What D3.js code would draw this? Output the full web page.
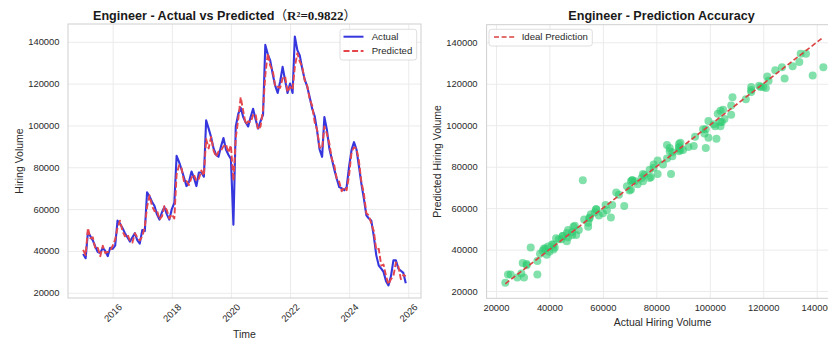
<!DOCTYPE html>
<html>
<head>
<meta charset="utf-8">
<script src="https://cdn.jsdelivr.net/npm/d3@7"></script>
<style>
  body { margin: 0; background: #fff; }
  svg { display: block; font-family: "Liberation Sans", Arial, sans-serif; }
</style>
</head>
<body>
<svg id="chart" width="828" height="341"></svg>
<script>
// Monthly engineer hiring volume, Jan 2015 – Dec 2025
const startYear = 2015;
const actual = [
  38500, 36500, 49000, 47000, 45000, 42000, 39500, 39000, 41500, 40000, 37500, 41500,
  41000, 42500, 54500, 53000, 51000, 48500, 46500, 44500, 46500, 48500, 45000, 43500,
  50000, 49500, 68000, 66000, 63500, 61500, 57500, 55000, 58500, 61000, 57500, 55000,
  60000, 63000, 85500, 82500, 79000, 75000, 71000, 73000, 78000, 75000, 71000, 77500,
  77500, 75500, 102500, 98500, 94500, 89000, 86000, 85000, 90000, 94000, 88500, 86000,
  84000, 52500, 99500, 105500, 108500, 104000, 101500, 99500, 104000, 108000, 103000, 98500,
  102000, 105000, 138500, 134000, 131000, 124500, 119000, 115500, 121000, 128000, 121500, 115500,
  120000, 115500, 142500, 136000, 133500, 127000, 122000, 118500, 113500, 108000, 104500, 97500,
  88500, 85000, 104000, 98000, 89000, 84000, 79000, 74500, 70500, 70000, 69000, 70500,
  80500, 88500, 92000, 88500, 80500, 72000, 65000, 57000, 55500, 54500, 47000, 38000,
  33000, 31500, 30000, 25500, 23500, 28000, 35500, 35500, 31500, 30500, 29500, 24500
];
const predicted = [
  40500, 38000, 51000, 46000, 46500, 41000, 41500, 37500, 42500, 39000, 39500, 40000,
  42500, 45500, 51000, 54500, 49500, 47000, 48000, 45000, 44000, 48500, 46500, 45000,
  47000, 51500, 61000, 66500, 61500, 59000, 59500, 55000, 56500, 61500, 59500, 55500,
  57500, 55500, 76500, 81000, 79500, 73000, 73500, 71500, 75000, 76500, 73500, 74500,
  78500, 76000, 93500, 89000, 94500, 88000, 85000, 87500, 88000, 90000, 91000, 87000,
  90500, 73500, 94000, 103000, 113500, 107000, 100500, 102000, 101500, 105000, 105500, 98000,
  99500, 107500, 124000, 134500, 128500, 126500, 118500, 118500, 118000, 122500, 123500, 116000,
  118500, 117000, 128000, 134500, 130500, 128000, 121500, 119000, 112500, 109500, 101500, 98000,
  89500, 89000, 99500, 96000, 91500, 84000, 81000, 74500, 73000, 68500, 70500, 69000,
  76500, 87500, 89500, 89000, 83000, 73000, 67500, 58000, 57000, 53000, 49500, 40500,
  41000, 33000, 33500, 28000, 24000, 26500, 28000, 34500, 32500, 26500, 28500, 28000
];
const yearTicks = [2016, 2018, 2020, 2022, 2024, 2026];
const volumeTicks = [20000, 40000, 60000, 80000, 100000, 120000, 140000];
const roleName = "Engineer";
const r2Label = "R²=0.9822";
const seriesNames = ["Actual", "Predicted"];
const idealName = "Ideal Prediction";

const months = actual.map((_, i) => new Date(startYear, i, 1));

const COLORS = {
  actual: "#3636de",
  predicted: "#e5464c",
  ideal: "#d9413f",
  dots: "#2ecc71",
  grid: "#ebebeb",
  frame: "#cfcfcf",
  text: "#2a2a2a"
};

const svg = d3.select("#chart");

function styleAxis(g) {
  g.select(".domain").remove();
  g.selectAll(".tick line").attr("stroke", COLORS.grid).attr("stroke-width", 1);
  g.selectAll(".tick text")
    .attr("fill", COLORS.text)
    .style("font-size", "9.4px")
    .style("font-family", "'Liberation Sans', Arial, sans-serif");
}

function frame(box) {
  svg.append("rect")
    .attr("x", box.left).attr("y", box.top)
    .attr("width", box.right - box.left).attr("height", box.bottom - box.top)
    .attr("fill", "none").attr("stroke", COLORS.frame).attr("stroke-width", 1);
}

// ---------- Left panel: time series ----------
const L = { left: 68, right: 421, top: 24, bottom: 298 };
const xL = d3.scaleTime()
  .domain([new Date(2014, 5, 28), new Date(2026, 5, 7)])
  .range([L.left, L.right]);
const yL = d3.scaleLinear().domain([17500, 148500]).range([L.bottom, L.top]);

svg.append("g")
  .attr("transform", `translate(${L.left},0)`)
  .call(d3.axisLeft(yL).tickValues(volumeTicks)
    .tickSize(-(L.right - L.left)).tickPadding(8.5).tickFormat(d3.format("d")))
  .call(styleAxis);

const xAxisL = svg.append("g")
  .attr("transform", `translate(0,${L.bottom})`)
  .call(d3.axisBottom(xL).tickValues(yearTicks.map(y => new Date(y, 0, 1)))
    .tickSize(-(L.bottom - L.top)).tickFormat(d3.timeFormat("%Y")))
  .call(styleAxis);
xAxisL.selectAll(".tick text")
  .attr("y", null).attr("dy", "0.32em")
  .attr("text-anchor", "middle")
  .attr("transform", "translate(0,15) rotate(-45)");

frame(L);

const lineL = d3.line().x((d, i) => xL(months[i])).y(d => yL(d));
svg.append("path").datum(actual)
  .attr("d", lineL).attr("fill", "none")
  .attr("stroke", COLORS.actual).attr("stroke-width", 2.1).attr("stroke-linejoin", "round");
svg.append("path").datum(predicted)
  .attr("d", lineL).attr("fill", "none")
  .attr("stroke", COLORS.predicted).attr("stroke-width", 1.9)
  .attr("stroke-dasharray", "6,2.6").attr("stroke-linejoin", "round");

// Title
const titleL = svg.append("text")
  .attr("x", 93).attr("y", 19.5)
  .attr("fill", "#1a1a1a").style("font-size", "12.6px");
titleL.append("tspan").style("font-weight", "bold")
  .text(`${roleName} - Actual vs Predicted`);
titleL.append("tspan").style("font-family", "'Noto Sans CJK SC', sans-serif").text("（");
titleL.append("tspan").style("font-family", "'Liberation Serif', serif")
  .style("font-weight", "bold").style("font-size", "13px").text(r2Label);
titleL.append("tspan").style("font-family", "'Noto Sans CJK SC', sans-serif").text("）");

svg.append("text").attr("x", (L.left + L.right) / 2).attr("y", 338)
  .attr("text-anchor", "middle").attr("fill", COLORS.text)
  .style("font-size", "10.5px").text("Time");
svg.append("text")
  .attr("transform", `translate(23,${(L.top + L.bottom) / 2}) rotate(-90)`)
  .attr("text-anchor", "middle").attr("fill", COLORS.text)
  .style("font-size", "10.5px").text("Hiring Volume");

// Legend
const legL = svg.append("g");
legL.append("rect").attr("x", 340).attr("y", 29.3).attr("width", 76.7).attr("height", 30.7)
  .attr("rx", 2.5).attr("fill", "#fff").attr("fill-opacity", 0.85)
  .attr("stroke", "#d6d6d6").attr("stroke-width", 0.8);
[[COLORS.actual, null, 36.7], [COLORS.predicted, "6,2.6", 51]].forEach(([c, dash, y], k) => {
  legL.append("line").attr("x1", 343.5).attr("x2", 363.5).attr("y1", y).attr("y2", y)
    .attr("stroke", c).attr("stroke-width", 2).attr("stroke-dasharray", dash);
  legL.append("text").attr("x", 371.7).attr("y", y + 3.4)
    .attr("fill", COLORS.text).style("font-size", "9.6px").text(seriesNames[k]);
});

// ---------- Right panel: actual vs predicted scatter ----------
const R = { left: 486.6, right: 839.4, top: 24.7, bottom: 298.3 };
const xR = d3.scaleLinear().domain([16500, 148500]).range([R.left, R.right]);
const yR = d3.scaleLinear().domain([16500, 148500]).range([R.bottom, R.top]);

svg.append("g")
  .attr("transform", `translate(${R.left},0)`)
  .call(d3.axisLeft(yR).tickValues(volumeTicks)
    .tickSize(-(R.right - R.left)).tickPadding(9).tickFormat(d3.format("d")))
  .call(styleAxis);
svg.append("g")
  .attr("transform", `translate(0,${R.bottom})`)
  .call(d3.axisBottom(xR).tickValues(volumeTicks)
    .tickSize(-(R.bottom - R.top)).tickPadding(6).tickFormat(d3.format("d")))
  .call(styleAxis);

frame(R);

svg.append("g").selectAll("circle")
  .data(actual.map((a, i) => [a, predicted[i]]))
  .join("circle")
  .attr("cx", d => xR(d[0])).attr("cy", d => yR(d[1])).attr("r", 4)
  .attr("fill", COLORS.dots).attr("fill-opacity", 0.6);

const lo = Math.min(d3.min(actual), d3.min(predicted));
const hi = Math.max(d3.max(actual), d3.max(predicted));
svg.append("line")
  .attr("x1", xR(lo)).attr("y1", yR(lo)).attr("x2", xR(hi)).attr("y2", yR(hi))
  .attr("stroke", COLORS.ideal).attr("stroke-width", 1.6).attr("stroke-dasharray", "5,2.6");

svg.append("text").attr("x", 661.5).attr("y", 19.5)
  .attr("text-anchor", "middle").attr("fill", "#1a1a1a")
  .style("font-size", "12.6px").style("font-weight", "bold")
  .text(`${roleName} - Prediction Accuracy`);

svg.append("text").attr("x", 662.5).attr("y", 326)
  .attr("text-anchor", "middle").attr("fill", COLORS.text)
  .style("font-size", "10.5px").text("Actual Hiring Volume");
svg.append("text")
  .attr("transform", `translate(440.5,${(R.top + R.bottom) / 2}) rotate(-90)`)
  .attr("text-anchor", "middle").attr("fill", COLORS.text)
  .style("font-size", "10.5px").text("Predicted Hiring Volume");

const legR = svg.append("g");
legR.append("rect").attr("x", 489).attr("y", 29.3).attr("width", 103.3).attr("height", 16.7)
  .attr("rx", 2.5).attr("fill", "#fff").attr("fill-opacity", 0.85)
  .attr("stroke", "#d6d6d6").attr("stroke-width", 0.8);
legR.append("line").attr("x1", 494).attr("x2", 515).attr("y1", 37).attr("y2", 37)
  .attr("stroke", COLORS.ideal).attr("stroke-width", 1.6).attr("stroke-dasharray", "5,2.6");
legR.append("text").attr("x", 521.7).attr("y", 40.4)
  .attr("fill", COLORS.text).style("font-size", "9.6px").text(idealName);
</script>
</body>
</html>
